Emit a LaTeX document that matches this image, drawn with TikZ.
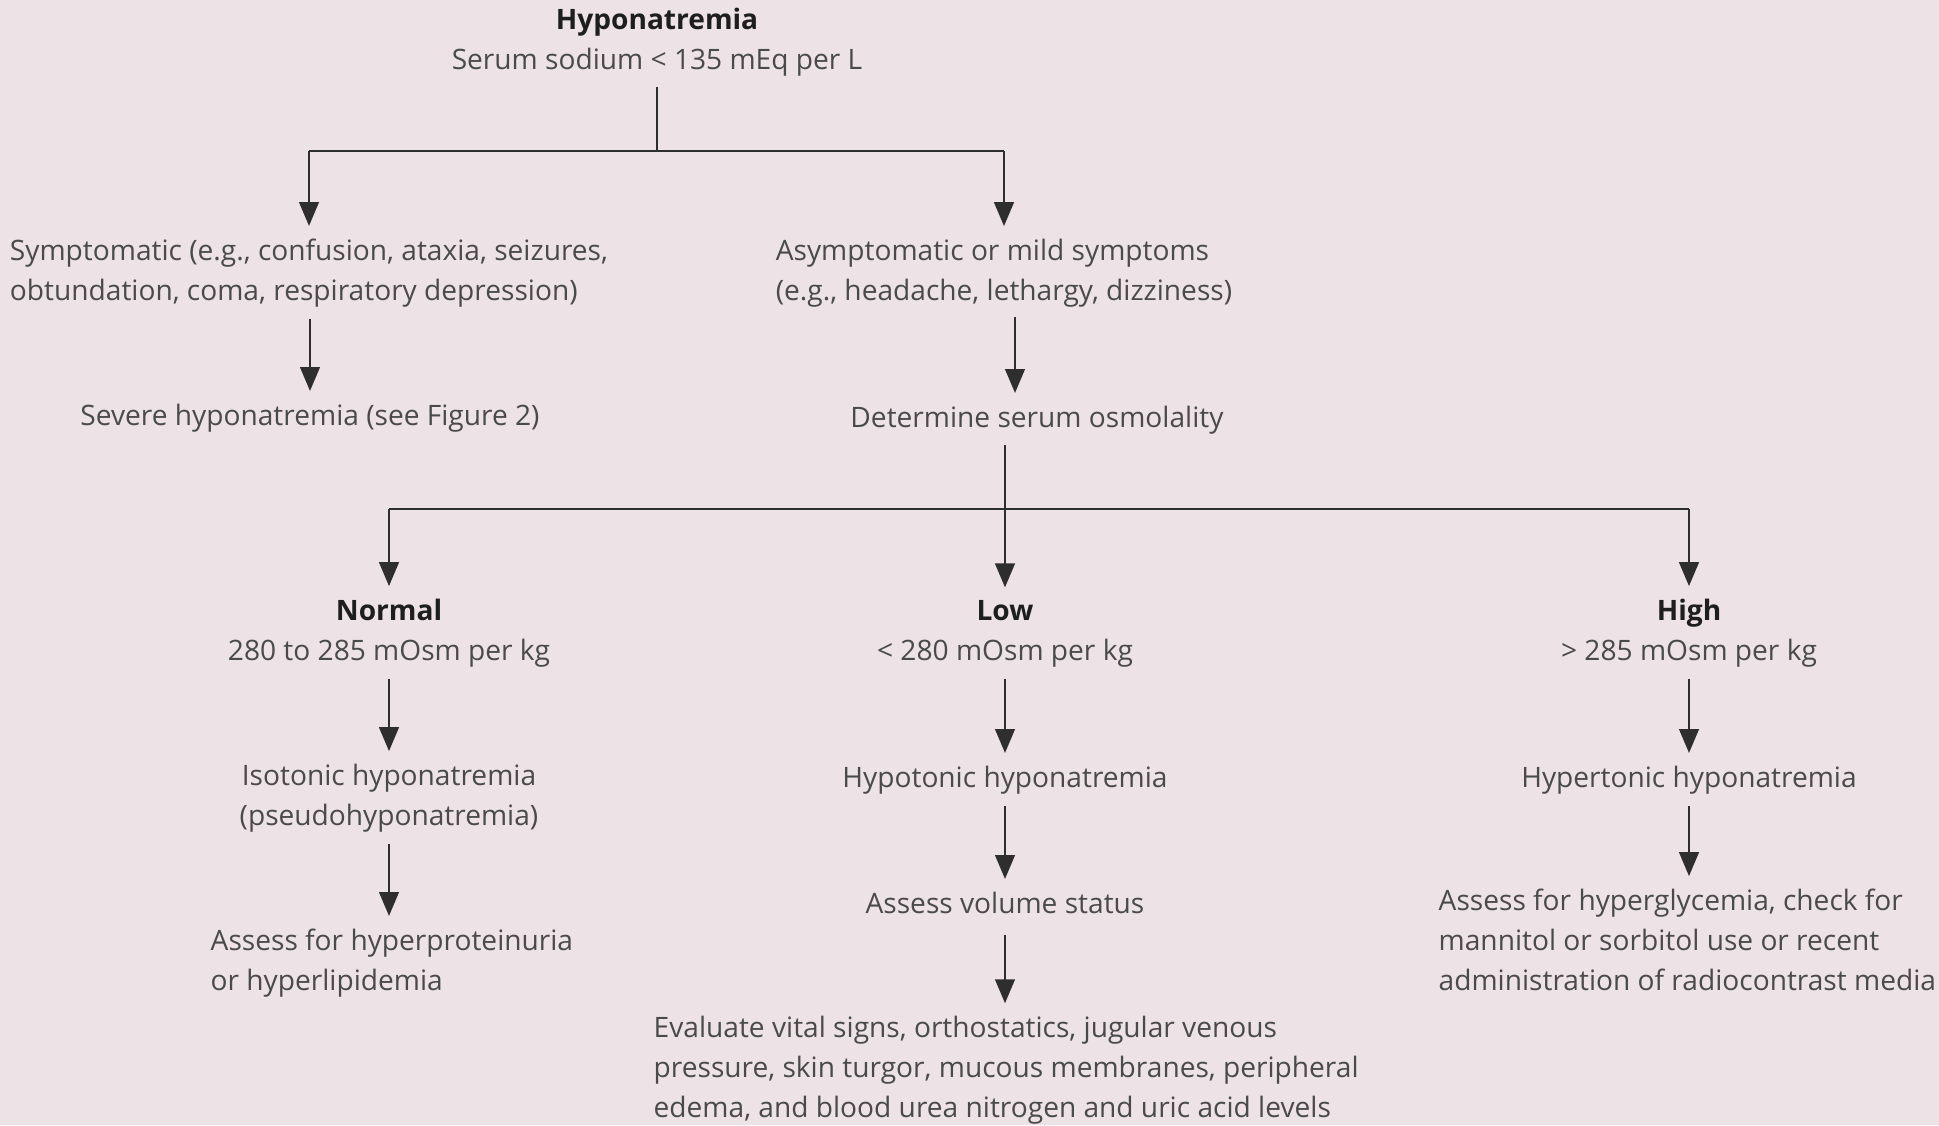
\documentclass[tikz,border=0pt]{standalone}
\usepackage{fontspec}
\setmainfont{Open Sans}
\usetikzlibrary{arrows.meta}
\definecolor{bgpink}{HTML}{EDE2E6}
\definecolor{txtgray}{HTML}{4A4A4A}
\definecolor{hdgray}{HTML}{1E1E1E}
\definecolor{lngray}{HTML}{2E2E2E}
\newcommand{\headtxt}[1]{{\color{hdgray}\bfseries #1}}

\begin{document}
\begin{tikzpicture}[
  t/.style={inner sep=0pt,text=txtgray,font=\fontsize{8}{11.34}\selectfont,anchor=base},
  tc/.style={t,align=center},
  tl/.style={t,align=left},
  ln/.style={draw=lngray,line width=0.6pt},
  arr/.style={ln,-{Triangle[length=6.8pt,width=5.6pt]},shorten <=0.12cm,shorten >=0.12cm}]
  \useasboundingbox (0,0) rectangle (19.39,-11.25);
  \fill[bgpink] (0,0) rectangle (19.39,-11.25);

  \node[tc] (hypo) at (6.57,-0.69) {\headtxt{Hyponatremia}\\Serum sodium < 135 mEq per L};
  \node[tl] (sym) at (3.09,-3.00) {Symptomatic (e.g., confusion, ataxia, seizures,\\obtundation, coma, respiratory depression)};
  \node[tl] (asym) at (10.04,-3.00) {Asymptomatic or mild symptoms\\(e.g., headache, lethargy, dizziness)};
  \node[t] (severe) at (3.10,-4.25) {Severe hyponatremia (see Figure 2)};
  \node[t] (det) at (10.37,-4.27) {Determine serum osmolality};

  \node[tc] (normal) at (3.89,-6.60) {\headtxt{Normal}\\280 to 285 mOsm per kg};
  \node[tc] (low) at (10.05,-6.60) {\headtxt{Low}\\< 280 mOsm per kg};
  \node[tc] (high) at (16.89,-6.60) {\headtxt{High}\\> 285 mOsm per kg};
  \node[tc] (iso) at (3.89,-8.25) {Isotonic hyponatremia\\(pseudohyponatremia)};
  \node[t] (hypot) at (10.05,-7.87) {Hypotonic hyponatremia};
  \node[t] (hypert) at (16.89,-7.87) {Hypertonic hyponatremia};
  \node[tl,anchor=base west] (prot) at (2.10,-9.90) {Assess for hyperproteinuria\\or hyperlipidemia};
  \node[t] (vol) at (10.05,-9.13) {Assess volume status};
  \node[tl,anchor=base west] (glyc) at (14.38,-9.90) {Assess for hyperglycemia, check for\\mannitol or sorbitol use or recent\\administration of radiocontrast media};
  \node[tl,anchor=base west] (eval) at (6.53,-11.17) {Evaluate vital signs, orthostatics, jugular venous\\pressure, skin turgor, mucous membranes, peripheral\\edema, and blood urea nitrogen and uric acid levels};

  \coordinate (s1) at (6.57,-1.51);
  \draw[ln,shorten <=0.11cm] (hypo.south) -- (s1);
  \draw[ln] (sym.north |- s1) -- (asym.north |- s1);
  \foreach \n in {sym,asym}
    \draw[arr,shorten <=0pt] (\n.north |- s1) -- (\n.north);
  \draw[arr] (severe.north |- sym.south) -- (severe.north);
  \draw[arr,shorten <=0.1cm] ([xshift=1.1mm]asym.south) -- ([xshift=1.1mm]asym.south |- det.north);

  \coordinate (s2) at (10.05,-5.09);
  \draw[ln,shorten <=0.11cm] (det.south -| s2) -- (s2);
  \draw[ln] (normal.north |- s2) -- (high.north |- s2);
  \foreach \n in {normal,low,high}
    \draw[arr,shorten <=0pt] (\n.north |- s2) -- (\n.north);
  \foreach \a/\b in {normal/iso,low/hypot,high/hypert,hypot/vol}
    \draw[arr] (\a.south) -- (\b.north);
  \draw[arr] (iso.south) -- (iso.south |- prot.north);
  \draw[arr] (hypert.south) -- (hypert.south |- glyc.north);
  \draw[arr,shorten <=0.21cm] (vol.south) -- (vol.south |- eval.north);
\end{tikzpicture}
\end{document}
